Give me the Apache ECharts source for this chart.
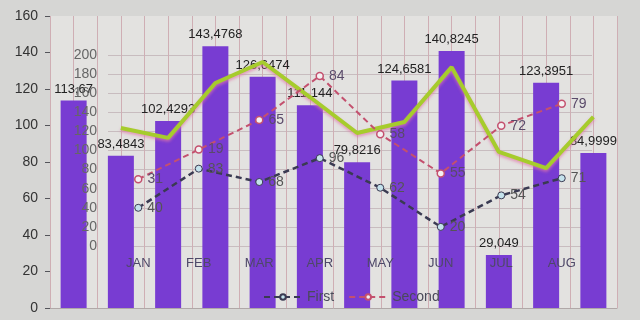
<!DOCTYPE html>
<html>
<head>
<meta charset="utf-8">
<script src="https://cdn.jsdelivr.net/npm/echarts@6/dist/echarts.min.js"></script>
<style>html,body{margin:0;padding:0;background:#d6d6d4;}#c{width:640px;height:320px;}</style>
</head>
<body>
<div id="c"></div>
<script>
// Outer bar chart (left axis 0-160)
var barCategories = ['B1','B2','B3','B4','B5','B6','B7','B8','B9','B10','B11','B12'];
var barValues = [113.67, 83.4843, 102.4293, 143.4768, 126.6474, 111.144, 79.8216, 124.6581, 140.8245, 29.049, 123.3951, 84.9999];
// green line on outer axis (starts at second slot)
var greenValues = ['-', 98.6, 93.2, 123.3, 134.8, 115.6, 95.9, 101.9, 132, 85.5, 76.7, 104.7];
// Inner chart (axis 0-200)
var months = ['JAN','FEB','MAR','APR','MAY','JUN','JUL','AUG'];
var firstValues = [40, 81, 67, 92, 61, 20, 53, 71];
var firstLabels = ['40','83','68','96','62','20','54','71'];
var secondValues = [70, 101, 132, 178, 117, 76, 126, 149];
var secondLabels = ['31','19','65','84','58','55','72','79'];
var outerTicks = [0,20,40,60,80,100,120,140,160];
var innerTicks = [0,20,40,60,80,100,120,140,160,180,200];

var chart = echarts.init(document.getElementById('c'), null, {renderer:'canvas'});
var font = "'Liberation Sans', Arial, sans-serif";
chart.setOption({
  backgroundColor: '#d6d6d4',
  animation: false,
  textStyle: {fontFamily: font},
  legend: {
    data: ['First','Second'],
    left: 258, top: 285,
    itemWidth: 38, itemHeight: 7, itemGap: 14,
    textStyle: {fontSize: 14, color: '#4a4a5a', fontFamily: font}
  },
  grid: [
    {left: 50, right: 23, top: 16, bottom: 12, show: true, backgroundColor: '#e3e2e0', borderWidth: 0},
    {left: 108, right: 48, top: 55, bottom: 74}
  ],
  xAxis: [
    {type: 'category', gridIndex: 0, data: barCategories, axisLabel: {show: false}, axisTick: {show: false},
     axisLine: {show: true, lineStyle: {color: '#b0a8a8'}}},
    {type: 'category', gridIndex: 1, data: months, axisTick: {show: false}, axisLine: {show: false}, z: 10,
     axisLabel: {margin: 11, fontSize: 13, color: '#4e4868', fontFamily: font}},
    {type: 'value', gridIndex: 0, min: 0, max: 24, interval: 1, show: true, axisLabel: {show: false},
     axisTick: {show: false}, axisLine: {show: false},
     splitLine: {show: true, lineStyle: {color: '#cfaeb4', width: 1}}}
  ],
  yAxis: [
    {type: 'value', gridIndex: 0, min: outerTicks[0], max: outerTicks[outerTicks.length-1], interval: 20,
     axisLabel: {margin: 12, fontSize: 14, color: '#333', fontFamily: font}, splitLine: {show: false},
     axisLine: {show: false}},
    {type: 'value', gridIndex: 1, position: 'left', min: innerTicks[0], max: innerTicks[innerTicks.length-1], interval: 20, z: 0,
     axisLabel: {show: false},
     splitLine: {show: true, lineStyle: {color: '#c8bcbf'}}, axisLine: {show: false}, axisTick: {show: false}},
    {type: 'value', gridIndex: 1, position: 'left', offset: 0, min: innerTicks[0], max: innerTicks[innerTicks.length-1], interval: 20, z: 10,
     axisLabel: {margin: 11, fontSize: 14, color: '#666', fontFamily: font},
     splitLine: {show: false}, axisLine: {show: false}, axisTick: {show: false}}
  ],
  series: [
    {type: 'bar', name: 'bars', xAxisIndex: 0, yAxisIndex: 0, data: barValues, barWidth: 26,
     itemStyle: {color: '#783cd2'}, z: 2,
     label: {show: true, position: 'top', distance: 5, fontSize: 13, color: '#222', fontFamily: font,
       formatter: function(p){ return String(p.value).replace('.', ','); }}},
    {type: 'line', name: 'green', xAxisIndex: 0, yAxisIndex: 0, data: greenValues, symbol: 'none',
     lineStyle: {color: '#a6cc2c', width: 4, shadowColor: 'rgba(225,120,170,0.7)', shadowBlur: 3, shadowOffsetY: 2},
     z: 4},
    {type: 'line', name: 'First', xAxisIndex: 1, yAxisIndex: 1, data: firstValues, symbol: 'circle', symbolSize: 7,
     lineStyle: {color: '#3a3a52', width: 2.5, type: [6, 4]},
     itemStyle: {color: '#c4e2ec', borderColor: '#3a3a52', borderWidth: 1},
     label: {show: true, position: 'right', distance: 5, fontSize: 14, color: '#555',
       formatter: function(p){ return firstLabels[p.dataIndex]; }}, z: 5},
    {type: 'line', name: 'Second', xAxisIndex: 1, yAxisIndex: 1, data: secondValues, symbol: 'circle', symbolSize: 7,
     lineStyle: {color: '#c4506e', width: 2, type: [6, 4]},
     itemStyle: {color: '#f4f0f2', borderColor: '#c4506e', borderWidth: 1.5},
     label: {show: true, position: 'right', distance: 5, fontSize: 14, color: '#5a4a6a',
       formatter: function(p){ return secondLabels[p.dataIndex]; }}, z: 5}
  ]
});
</script>
</body>
</html>
